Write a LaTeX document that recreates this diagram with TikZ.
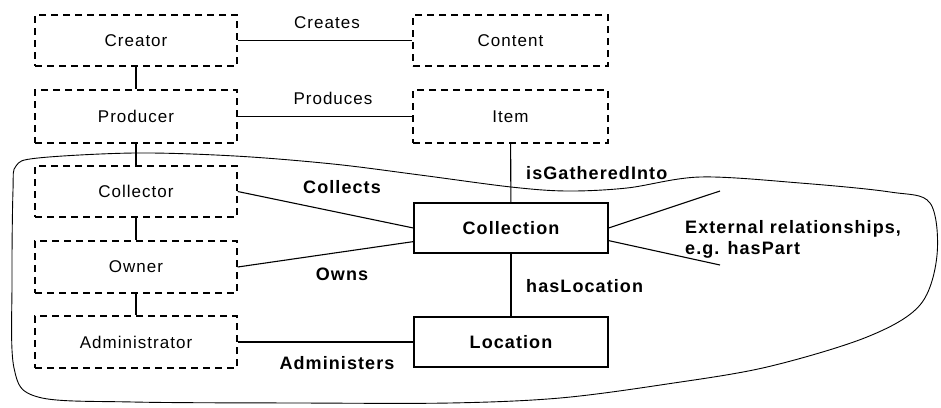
\documentclass[tikz,border=0pt]{standalone}
\usepackage{fontspec}
\setmainfont{Liberation Sans}[LetterSpace=6]
\begin{document}
\begin{tikzpicture}[x=1pt,y=-1pt,
  dbox/.style={draw, dash pattern=on 7pt off 5pt, line width=1.4pt, minimum width=202pt, inner sep=0pt, font=\fontsize{17}{20}\selectfont},
  sbox/.style={draw, line width=1.2pt, minimum width=194pt, minimum height=50pt, inner sep=0pt, font=\fontsize{18}{21}\selectfont\bfseries},
  conn/.style={line width=1.1pt},
  lab/.style={font=\fontsize{17}{20}\selectfont, inner sep=0pt},
  blab/.style={font=\fontsize{18}{21}\selectfont\bfseries, inner sep=0pt},
  blob/.style={line width=0.9pt}]
\useasboundingbox (0,0) rectangle (941,407);
% dashed boxes
\node[dbox, minimum height=51pt] (creator) at (136,40.5) {Creator};
\node[dbox, minimum height=53pt] (producer) at (136,116.5) {Producer};
\node[dbox, minimum height=51pt] (collector) at (136,191.5) {Collector};
\node[dbox, minimum height=52pt] (owner) at (136,267) {Owner};
\node[dbox, minimum height=52pt] (admin) at (136,342) {Administrator};
\node[dbox, minimum width=195pt, minimum height=51pt] (content) at (510.5,40.5) {Content};
\node[dbox, minimum width=195pt, minimum height=53pt] (item) at (510.5,116.5) {Item};
% solid boxes
\node[sbox] (collection) at (511,228) {Collection};
\node[sbox] (location) at (511,342) {Location};
% connectors
\draw[conn] (creator) -- (producer);
\draw[conn] (producer) -- (collector);
\draw[conn] (collector) -- (owner);
\draw[conn] (owner) -- (admin);
\draw[conn] (creator) -- (content);
\draw[conn] (producer) -- (item);
\draw[conn] (item) -- (collection);
\draw[conn] (collection) -- (location);
\draw[conn] (admin.east) -- (admin.east -| location.west);
\draw[conn] (collector.east) -- (collection.west);
\draw[conn] (owner.east) -- ([yshift=12pt]collection.south west);
\coordinate (ext1) at (720,191);
\coordinate (ext2) at (720,265);
\draw[conn] (collection.east) -- (ext1);
\draw[conn] ([yshift=13pt]collection.south east) -- (ext2);
% labels
\node[lab] (lcreates) at (327,23) {Creates};
\node[lab] (lproduces) at (333,98) {Produces};
\node[blab] (lcollects) at (342,187) {Collects};
\node[blab] (lowns) at (342,274) {Owns};
\node[blab] (ladmin) at (337,363) {Administers};
\node[blab, anchor=west] (lgather) at (526,173) {isGatheredInto};
\node[blab, anchor=west] (lhasloc) at (526,286) {hasLocation};
\node[blab, anchor=west, align=left] (lext) at (685,239.5) {External relationships,\\e.g. hasPart};
% blob
\draw[blob] plot[smooth cycle, tension=0.55] coordinates {
 (16,166) (38,158) (135,153) (235,156) (333,164) (420,175) (511,187) (567,191) (627,188) (700,177) (800,183) (890,192) (930,203) (937,255) (920,305) (867,337) (767,367) (667,384) (560,398) (450,403) (300,403) (133,402) (38,397) (14,368) (12,280) (13,190)};
\end{tikzpicture}
\end{document}
